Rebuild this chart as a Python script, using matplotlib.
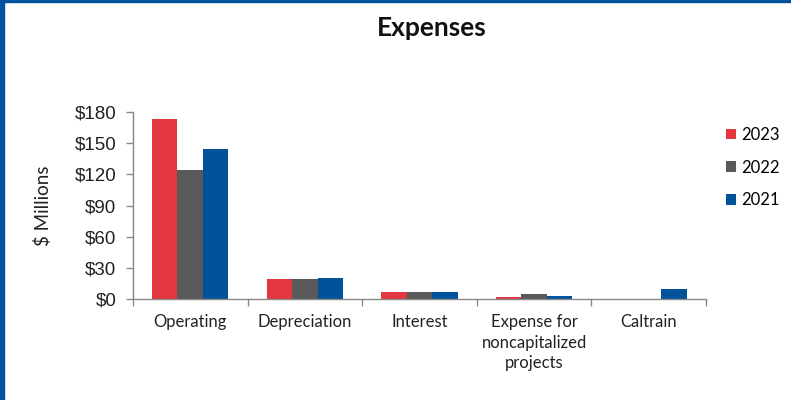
import numpy as np
import matplotlib
matplotlib.use("Agg")
import matplotlib.pyplot as plt
from matplotlib.patches import Rectangle

categories = ["Operating", "Depreciation", "Interest", "Expense for\nnoncapitalized\nprojects", "Caltrain"]
series_names = ["2023", "2022", "2021"]
v2023 = [173, 19, 7, 1.6, 0]
v2022 = [124, 19, 7, 4.5, 0]
v2021 = [144, 20, 7, 3, 9.5]
yticks = [0, 30, 60, 90, 120, 150, 180]
ytick_labels = ["$0", "$30", "$60", "$90", "$120", "$150", "$180"]
colors = ["#E23640", "#595959", "#00529B"]

fig = plt.figure(figsize=(7.91, 4.0), dpi=100)
ax = fig.add_axes([0.168, 0.2525, 0.7245, 0.4675])

x = np.arange(len(categories))
w = 0.222
for i, (vals, name, c) in enumerate(zip([v2023, v2022, v2021], series_names, colors)):
    ax.bar(x + (i - 1) * w, vals, width=w, color=c, label=name, edgecolor="none")

ax.set_xlim(-0.5, len(categories) - 0.5)
ax.set_ylim(0, 180)
ax.set_yticks(yticks)
ax.set_yticklabels(ytick_labels, fontfamily="Liberation Sans", fontsize=13.5, color="#222222")
ax.set_xticks(x)
ax.set_xticklabels(categories, fontfamily="Lato", fontsize=12, color="#222222", linespacing=1.35)
ax.tick_params(axis="x", length=0, pad=11)
ax.set_xticks(np.arange(-0.5, len(categories)), minor=True)
ax.tick_params(axis="x", which="minor", length=5, color="#888888", width=1)
ax.tick_params(axis="y", length=5, color="#888888", width=1, pad=7)
for s in ["top", "right"]:
    ax.spines[s].set_visible(False)
for s in ["left", "bottom"]:
    ax.spines[s].set_color("#888888")
    ax.spines[s].set_linewidth(1)

ax.set_ylabel("$ Millions", fontfamily="Lato", fontsize=13.5, color="#222222", labelpad=16)

fig.text(0.546, 0.93, "Expenses", ha="center", va="center", fontfamily="Lato",
         fontweight="bold", fontsize=19, color="#111111")

leg = ax.legend(loc="upper left", bbox_to_anchor=(1.008, 1.0), frameon=False,
                prop={"family": "Lato", "size": 12}, handlelength=0.6, handleheight=0.6,
                handletextpad=0.35, labelspacing=1.0)

# blue frame at top and left
fig.patches.append(Rectangle((0, 0.994), 1, 0.006, transform=fig.transFigure, color="#00529B", zorder=10))
fig.patches.append(Rectangle((0, 0), 0.0045, 1, transform=fig.transFigure, color="#00529B", zorder=10))

fig.savefig("out.png", dpi=100, facecolor="white")
